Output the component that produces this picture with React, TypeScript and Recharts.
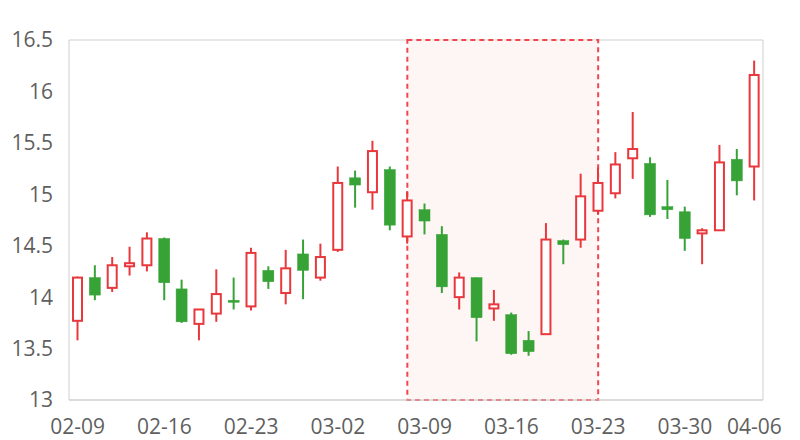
import React from "react";
import {
  ComposedChart,
  Bar,
  XAxis,
  YAxis,
  CartesianGrid,
  ReferenceArea,
} from "recharts";

// trading days (Mon-Fri, 04-03 missing)
const dates = [
  "02-09", "02-10", "02-11", "02-12", "02-13",
  "02-16", "02-17", "02-18", "02-19", "02-20",
  "02-23", "02-24", "02-25", "02-26", "02-27",
  "03-02", "03-03", "03-04", "03-05", "03-06",
  "03-09", "03-10", "03-11", "03-12", "03-13",
  "03-16", "03-17", "03-18", "03-19", "03-20",
  "03-23", "03-24", "03-25", "03-26", "03-27",
  "03-30", "03-31", "04-01", "04-02", "04-06",
];
const opens = [
  13.77, 14.19, 14.09, 14.3, 14.31, 14.57, 14.08, 13.74, 13.84, 13.97,
  13.91, 14.26, 14.04, 14.42, 14.19, 14.46, 15.16, 15.02, 15.24, 14.59,
  14.85, 14.61, 14.0, 14.19, 13.89, 13.83, 13.58, 13.64, 14.55, 14.56,
  14.84, 15.01, 15.35, 15.3, 14.88, 14.83, 14.62, 14.65, 15.34, 15.27,
];
const closes = [
  14.19, 14.02, 14.31, 14.33, 14.57, 14.14, 13.76, 13.88, 14.03, 13.95,
  14.43, 14.15, 14.28, 14.26, 14.39, 15.11, 15.09, 15.42, 14.7, 14.94,
  14.74, 14.1, 14.19, 13.8, 13.93, 13.45, 13.47, 14.56, 14.51, 14.98,
  15.11, 15.29, 15.44, 14.8, 14.85, 14.57, 14.65, 15.31, 15.13, 16.16,
];
const highs = [
  14.2, 14.31, 14.39, 14.49, 14.63, 14.58, 14.17, 13.88, 14.27, 14.19,
  14.48, 14.3, 14.46, 14.56, 14.52, 15.27, 15.23, 15.52, 15.27, 15.03,
  14.91, 14.69, 14.24, 14.19, 14.07, 13.85, 13.67, 14.72, 14.56, 15.2,
  15.26, 15.41, 15.8, 15.36, 15.14, 14.88, 14.67, 15.48, 15.44, 16.3,
];
const lows = [
  13.58, 13.97, 14.05, 14.21, 14.25, 13.97, 13.75, 13.58, 13.76, 13.88,
  13.87, 14.08, 13.93, 13.98, 14.16, 14.44, 14.87, 14.85, 14.65, 14.52,
  14.61, 14.04, 13.88, 13.57, 13.77, 13.44, 13.43, 13.64, 14.32, 14.48,
  14.8, 14.96, 15.15, 14.78, 14.76, 14.45, 14.32, 14.65, 14.99, 14.94,
];

const xTicks = ["02-09", "02-16", "02-23", "03-02", "03-09", "03-16", "03-23", "03-30", "04-06"];
const yTicks = [13, 13.5, 14, 14.5, 15, 15.5, 16, 16.5];
const highlight = ["03-06", "03-23"];

const UP = "#e8383d";
const DOWN = "#37a336";

const data = dates.map((date, i) => ({
  date,
  open: opens[i],
  close: closes[i],
  high: highs[i],
  low: lows[i],
}));

const Candle = (props: any) => {
  const { x, y, width, height, payload } = props;
  const { open, close, high, low } = payload;
  const up = close >= open;
  const color = up ? UP : DOWN;
  const ratio = height / (high - low);
  const yOpen = y + (high - open) * ratio;
  const yClose = y + (high - close) * ratio;
  const top = Math.min(yOpen, yClose);
  const bodyH = Math.max(Math.abs(yOpen - yClose), 1.5);
  const cx = x + width / 2;
  return (
    <g>
      <line x1={cx} x2={cx} y1={y} y2={y + height} stroke={color} strokeWidth={2} />
      {up ? (
        <rect x={x + 1} y={top} width={width - 2} height={bodyH} fill="#fff" stroke={color} strokeWidth={2} />
      ) : (
        <rect x={x} y={top} width={width} height={bodyH} fill={color} stroke={color} strokeWidth={0.5} />
      )}
    </g>
  );
};

// reference area spans band start..end; shift to band centres
const HighlightShape = (props: any) => {
  const { x, y, width, height } = props;
  const n = dates.indexOf(highlight[1]) - dates.indexOf(highlight[0]) + 1;
  const bw = width / n;
  return (
    <rect
      x={x + bw / 2}
      y={y}
      width={width - bw}
      height={height}
      fill="#fdeeee"
      fillOpacity={0.6}
      stroke="#f0474d"
      strokeWidth={2}
      strokeDasharray="5 4"
    />
  );
};

const tickStyle = { fill: "#5f5f5f", fontSize: 21, fontFamily: "'Open Sans', 'Noto Sans', sans-serif" };

export default function App() {
  return (
    <div style={{ position: "absolute", left: 0, top: 0, background: "#fff" }}>
      <ComposedChart width={800} height={440} data={data} margin={{ top: 40, right: 0, bottom: 0, left: 0 }}>
        <CartesianGrid vertical={false} stroke="#cfcfcf" />
        <XAxis
          dataKey="date"
          ticks={xTicks}
          interval={0}
          height={40}
          tickLine={false}
          axisLine={{ stroke: "#cfcfcf" }}
          tick={tickStyle}
          tickMargin={13}
        />
        <YAxis
          yAxisId="l"
          domain={[13, 16.5]}
          ticks={yTicks}
          width={69}
          tickLine={false}
          axisLine={{ stroke: "#cfcfcf" }}
          tick={tickStyle}
          tickMargin={10}
        />
        <YAxis yAxisId="r" orientation="right" width={37} tick={false} tickLine={false} axisLine={{ stroke: "#cfcfcf" }} />
        <ReferenceArea
          yAxisId="l"
          x1={highlight[0]}
          x2={highlight[1]}
          y1={13}
          y2={16.5}
          shape={HighlightShape}
        />
        <Bar
          yAxisId="l"
          dataKey={(d: any) => [d.low, d.high]}
          barSize={11}
          shape={Candle}
          isAnimationActive={false}
        />
      </ComposedChart>
    </div>
  );
}
